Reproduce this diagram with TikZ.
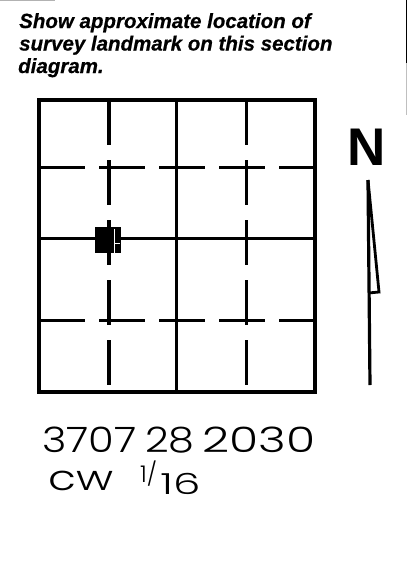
\documentclass[tikz,border=0pt]{standalone}
\usepackage{fontspec}
\setmainfont{Liberation Sans}[BoldItalicFeatures={FakeBold=0.6}]
\newfontfamily\handfont{Poppins}[UprightFont={* Light}]
\begin{document}
\begin{tikzpicture}[x=1pt,y=-1pt,
  frame/.style={line width=4.2pt, line join=miter},
  midline/.style={line width=3.6pt},
  dashline/.style={line width=3.2pt, dash pattern=on 45pt off 15pt},
  titletext/.style={anchor=base west, inner sep=0pt, font=\fontsize{20.5}{22.5}\selectfont\bfseries\itshape},
  hand/.style={anchor=base west, inner sep=0pt, font=\handfont\fontsize{35}{40}\selectfont},
  artifact/.style={line width=1.2pt}]
\useasboundingbox (0,0) rectangle (408,566);
% scan edge artifacts
\draw[artifact, gray!60] (0,0.6) -- (55,0.6);
\draw[artifact] (406.8,0) -- (406.8,63);
\draw[artifact, gray!50] (406.8,63) -- (406.8,115);
% title
\node[titletext] (t1) at (19,28) {Show approximate location of};
\node[titletext] (t2) at (19,50.5) {survey landmark on this section};
\node[titletext] (t3) at (18,73) {diagram.};
% section grid
\coordinate (nw) at (39,100);
\coordinate (se) at (315,392);
\coordinate (mt) at (176.5,100);
\coordinate (mb) at (176.5,392);
\coordinate (ml) at (39,238.5);
\coordinate (mr) at (315,238.5);
\coordinate (q1t) at (109,100);
\coordinate (q1b) at (109,392);
\coordinate (q3t) at (246.5,100);
\coordinate (q3b) at (246.5,392);
\coordinate (h1l) at (39,167.5);
\coordinate (h1r) at (315,167.5);
\coordinate (h3l) at (39,320.5);
\coordinate (h3r) at (315,320.5);
\draw[dashline] (q1t) -- (q1b);
\draw[dashline] (q3t) -- (q3b);
\draw[dashline, dash pattern=on 46pt off 14pt] (h1l) -- (h1r);
\draw[dashline, dash pattern=on 46pt off 14pt] (h3l) -- (h3r);
\draw[midline] (mt) -- (mb);
\draw[midline] (ml) -- (mr);
\draw[frame] (nw) rectangle (se);
% landmark
\node[fill=black, minimum width=26pt, minimum height=26pt, inner sep=0pt] (mark) at (108,240) {};
\draw[white, line width=0.5pt] (114,228.5) -- (114,252.5);
\draw[white, line width=0.4pt] (114,243) -- (120,243);
% north arrow
\node[anchor=base, inner sep=0pt, font=\fontsize{53}{53}\selectfont\bfseries] (N) at (366.5,165) {N};
\coordinate (at) at (368,180);
\coordinate (ab) at (370,385);
\coordinate (ar) at (379,292);
\coordinate (al) at (368.5,293);
\draw[line width=3.2pt] (at) -- (ab);
\draw[line width=2.8pt, line join=miter] (at) -- (ar) -- (al);
% handwritten note
\node[hand, xscale=1.19] (n1) at (42,452) {3707};
\node[hand, xscale=1.18] (n2) at (145,452) {28};
\node[hand, xscale=1.35] (n3) at (202,452) {2030};
\node[hand, xscale=1.3] (n4) at (48,490) {cw};
\node[hand, font=\handfont\fontsize{23}{23}\selectfont] (n5) at (140,482) {1/};
\node[hand, font=\handfont\fontsize{29}{29}\selectfont, xscale=1.5] (n6) at (160,494) {16};
\end{tikzpicture}
\end{document}
